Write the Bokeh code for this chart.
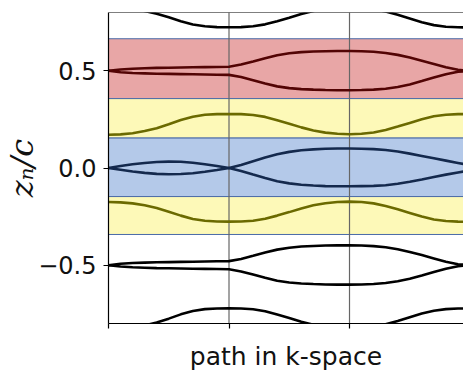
from bokeh.plotting import figure
from bokeh.models import FixedTicker, CustomJSTickFormatter, Span, Range1d
from bokeh.embed import file_html
from bokeh.resources import INLINE

# ---- data ----
kx = [0.0, 0.1, 0.2, 0.3, 0.4, 0.5, 0.6, 0.7, 0.8, 0.9,
      1.0, 1.1, 1.2, 1.3, 1.4, 1.5, 1.6, 1.7, 1.8, 1.9,
      2.0, 2.1, 2.2, 2.3, 2.4, 2.5, 2.6, 2.7, 2.8, 2.9, 3.0]

kpath_ticks = [0, 1, 2, 3]
kpath_dividers = [1, 2]
y_ticks = [-0.5, 0.0, 0.5]
y_lo, y_hi = -0.8, 0.8
x_lo, x_hi = 0.0, 2.946

band_bottom = [0.357, 0.154, -0.147, -0.342]
band_top = [0.665, 0.357, 0.154, -0.147]
band_colors = ["#e8a6a6", "#fdf9b8", "#b4c9e9", "#fdf9b8"]

top_black = [0.825, 0.823, 0.818, 0.808, 0.794, 0.775, 0.755, 0.738, 0.729, 0.725,
             0.724, 0.725, 0.729, 0.739, 0.755, 0.773, 0.792, 0.808, 0.819, 0.825,
             0.827, 0.825, 0.818, 0.805, 0.788, 0.769, 0.750, 0.735, 0.727, 0.724, 0.723]

red_upper = [0.500, 0.507, 0.511, 0.513, 0.515, 0.516, 0.517, 0.518, 0.519, 0.520,
             0.521, 0.532, 0.548, 0.565, 0.580, 0.590, 0.596, 0.599, 0.601, 0.602,
             0.602, 0.601, 0.598, 0.592, 0.582, 0.568, 0.552, 0.535, 0.518, 0.505, 0.500]
red_lower = [0.500, 0.493, 0.489, 0.487, 0.485, 0.484, 0.483, 0.482, 0.481, 0.480,
             0.479, 0.468, 0.452, 0.435, 0.420, 0.411, 0.406, 0.403, 0.401, 0.400,
             0.400, 0.401, 0.403, 0.408, 0.417, 0.430, 0.447, 0.465, 0.482, 0.495, 0.500]

yellow_upper = [0.171, 0.173, 0.179, 0.190, 0.205, 0.225, 0.247, 0.264, 0.274, 0.277,
                0.278, 0.277, 0.273, 0.263, 0.246, 0.228, 0.209, 0.193, 0.182, 0.176,
                0.174, 0.176, 0.183, 0.196, 0.213, 0.232, 0.251, 0.266, 0.274, 0.277, 0.278]

blue_upper = [0.000, 0.010, 0.019, 0.026, 0.031, 0.033, 0.032, 0.027, 0.019, 0.010,
              0.000, 0.015, 0.035, 0.054, 0.071, 0.083, 0.091, 0.096, 0.099, 0.100,
              0.100, 0.099, 0.097, 0.093, 0.085, 0.074, 0.062, 0.050, 0.038, 0.026, 0.014]
blue_lower = [0.000, -0.009, -0.018, -0.025, -0.030, -0.032, -0.031, -0.027, -0.019, -0.010,
              0.000, -0.015, -0.034, -0.052, -0.068, -0.079, -0.086, -0.090, -0.093, -0.094,
              -0.094, -0.093, -0.092, -0.089, -0.081, -0.071, -0.059, -0.046, -0.034, -0.023, -0.012]

yellow_lower = [-0.175, -0.177, -0.182, -0.192, -0.206, -0.225, -0.245, -0.262, -0.271, -0.275,
                -0.276, -0.275, -0.271, -0.261, -0.245, -0.227, -0.208, -0.192, -0.181, -0.175,
                -0.173, -0.175, -0.182, -0.195, -0.212, -0.231, -0.250, -0.265, -0.273, -0.276, -0.277]

black_upper = [-0.500, -0.493, -0.489, -0.487, -0.485, -0.484, -0.483, -0.482, -0.481, -0.480,
               -0.479, -0.468, -0.452, -0.435, -0.420, -0.410, -0.404, -0.401, -0.399, -0.398,
               -0.398, -0.399, -0.402, -0.408, -0.418, -0.432, -0.448, -0.465, -0.482, -0.495, -0.500]
black_lower = [-0.500, -0.507, -0.511, -0.513, -0.515, -0.516, -0.517, -0.518, -0.519, -0.520,
               -0.521, -0.532, -0.548, -0.565, -0.580, -0.589, -0.594, -0.597, -0.599, -0.600,
               -0.600, -0.599, -0.597, -0.592, -0.583, -0.570, -0.553, -0.535, -0.518, -0.505, -0.500]

bottom_black = [-0.829, -0.827, -0.821, -0.810, -0.795, -0.775, -0.753, -0.736, -0.726, -0.723,
                -0.722, -0.723, -0.727, -0.737, -0.754, -0.772, -0.791, -0.807, -0.818, -0.824,
                -0.826, -0.824, -0.817, -0.804, -0.787, -0.768, -0.749, -0.734, -0.726, -0.723, -0.722]

series = [
    (top_black, "#000000"),
    (red_upper, "#520404"),
    (red_lower, "#520404"),
    (yellow_upper, "#6b6a00"),
    (blue_upper, "#14294d"),
    (blue_lower, "#14294d"),
    (yellow_lower, "#6b6a00"),
    (black_upper, "#000000"),
    (black_lower, "#000000"),
    (bottom_black, "#000000"),
]

# ---- figure ----
p = figure(width=463, height=373, output_backend="svg", toolbar_location=None,
           x_range=Range1d(x_lo, x_hi), y_range=Range1d(y_lo, y_hi),
           min_border_left=108, min_border_right=0, min_border_top=12, min_border_bottom=50)
p.background_fill_color = "white"
p.border_fill_color = "white"
p.outline_line_color = None
p.xgrid.visible = False
p.ygrid.visible = False

# shaded bands
p.quad(left=kx[0], right=kx[-1], bottom=band_bottom, top=band_top,
       fill_color=band_colors, fill_alpha=1.0, line_color="#4a6aa8", line_width=1)

# high-symmetry dividers
p.segment(x0=kpath_dividers, y0=y_lo, x1=kpath_dividers, y1=y_hi,
          line_color="#666666", line_width=1.2)

# curves
for ys, col in series:
    p.line(kx, ys, line_color=col, line_width=2.6)

# top spine
p.add_layout(Span(location=y_hi, dimension="width", line_color="black", line_width=1.2))

# y axis
p.yaxis.ticker = FixedTicker(ticks=y_ticks, minor_ticks=[])
p.yaxis.formatter = CustomJSTickFormatter(
    code="return tick < 0 ? '\u2212' + Math.abs(tick).toFixed(1) : tick.toFixed(1);")
p.yaxis.major_tick_out = 5
p.yaxis.major_tick_in = 0
p.yaxis.minor_tick_out = 0
p.yaxis.minor_tick_in = 0
p.yaxis.major_label_standoff = 7
p.yaxis.major_label_text_font = "DejaVu Sans"
p.yaxis.major_label_text_font_size = "24px"
p.yaxis.major_label_text_color = "#111111"
p.yaxis.axis_line_color = "black"
p.yaxis.axis_line_width = 1.2
p.yaxis.major_tick_line_width = 1.2
p.yaxis.axis_label = "z\u2099/c"
p.yaxis.axis_label_text_font = "DejaVu Serif"
p.yaxis.axis_label_text_font_style = "italic"
p.yaxis.axis_label_text_font_size = "32px"
p.yaxis.axis_label_text_color = "#111111"
p.yaxis.axis_label_standoff = -6

# x axis
p.xaxis.ticker = FixedTicker(ticks=kpath_ticks, minor_ticks=[])
p.xaxis.formatter = CustomJSTickFormatter(code="return '';")
p.xaxis.major_tick_out = 5
p.xaxis.major_tick_in = 0
p.xaxis.minor_tick_out = 0
p.xaxis.minor_tick_in = 0
p.xaxis.major_label_standoff = 0
p.xaxis.major_label_text_font_size = "2px"
p.xaxis.axis_line_color = "black"
p.xaxis.axis_line_width = 1.2
p.xaxis.major_tick_line_width = 1.2
p.xaxis.axis_label = "path in k-space"
p.xaxis.axis_label_text_font = "DejaVu Sans"
p.xaxis.axis_label_text_font_style = "normal"
p.xaxis.axis_label_text_font_size = "25px"
p.xaxis.axis_label_text_color = "#111111"
p.xaxis.axis_label_standoff = 13

open("out.html", "w").write(file_html(p, INLINE))
